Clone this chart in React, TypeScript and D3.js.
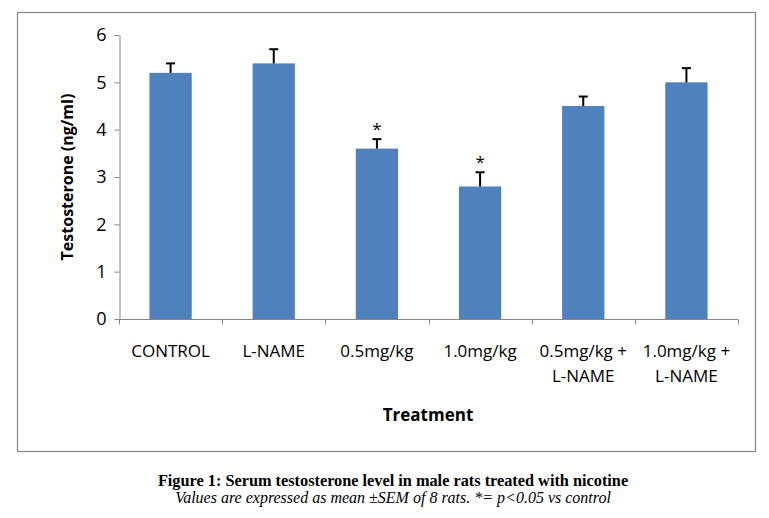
import { useEffect, useRef } from 'react';
import * as d3 from 'd3';

const categories = ['CONTROL', 'L-NAME', '0.5mg/kg', '1.0mg/kg', '0.5mg/kg +|L-NAME', '1.0mg/kg +|L-NAME'];
const means = [5.2, 5.4, 3.6, 2.8, 4.5, 5.0];
const sems = [0.2, 0.3, 0.2, 0.3, 0.2, 0.3];
const significant = [false, false, true, true, false, false];
const yTicks = [0, 1, 2, 3, 4, 5, 6];

const W = 769;
const H = 518;

const App = () => {
  const svgRef = useRef<SVGSVGElement>(null);

  useEffect(() => {
    const svg = d3.select(svgRef.current);
    svg.selectAll('*').remove();

    const left = 119;
    const right = 738;
    const top = 35;
    const bottom = 319;
    const font = "'Open Sans', 'Noto Sans', sans-serif";

    // outer frame
    svg
      .append('rect')
      .attr('x', 17.5)
      .attr('y', 12.5)
      .attr('width', 738)
      .attr('height', 439)
      .attr('fill', 'white')
      .attr('stroke', '#868686')
      .attr('stroke-width', 1.2);

    const x = d3
      .scaleBand<string>()
      .domain(categories)
      .range([left, right])
      .paddingInner(0.59)
      .paddingOuter(0.295);
    const step = (right - left) / categories.length;

    const y = d3.scaleLinear().domain([0, 6]).range([bottom, top]);

    // y axis
    const yAxis = svg
      .append('g')
      .attr('transform', `translate(${left + 0.5},0)`)
      .call(
        d3
          .axisLeft(y)
          .tickValues(yTicks)
          .tickFormat(d3.format('d'))
          .tickSize(5)
          .tickSizeOuter(0)
          .tickPadding(8),
      );
    yAxis.select('.domain').attr('stroke', '#868686');
    yAxis.selectAll('.tick line').attr('stroke', '#868686');
    yAxis
      .selectAll('.tick text')
      .attr('font-family', font)
      .attr('font-size', 18)
      .attr('fill', '#000');

    // x axis: ticks at category boundaries
    const xAxisG = svg.append('g').attr('transform', `translate(0,${bottom + 0.5})`);
    xAxisG
      .append('line')
      .attr('x1', left)
      .attr('x2', right)
      .attr('stroke', '#868686');
    xAxisG
      .selectAll('.bt')
      .data(d3.range(categories.length + 1))
      .enter()
      .append('line')
      .attr('x1', (i) => Math.round(left + i * step) + 0.5)
      .attr('x2', (i) => Math.round(left + i * step) + 0.5)
      .attr('y1', 0)
      .attr('y2', 5)
      .attr('stroke', '#868686');

    // bars
    svg
      .selectAll('.bar')
      .data(categories)
      .enter()
      .append('rect')
      .attr('x', (d) => x(d) as number)
      .attr('width', x.bandwidth())
      .attr('y', (_, i) => y(means[i]))
      .attr('height', (_, i) => y(0) - y(means[i]))
      .attr('fill', '#4F81BD');

    // error bars (positive only)
    const err = svg.append('g').attr('stroke', '#000').attr('stroke-width', 2);
    categories.forEach((c, i) => {
      const cx = (x(c) as number) + x.bandwidth() / 2;
      err
        .append('line')
        .attr('x1', cx)
        .attr('x2', cx)
        .attr('y1', y(means[i]))
        .attr('y2', y(means[i] + sems[i]));
      err
        .append('line')
        .attr('x1', cx - 4.5)
        .attr('x2', cx + 4.5)
        .attr('y1', y(means[i] + sems[i]))
        .attr('y2', y(means[i] + sems[i]));
      if (significant[i]) {
        svg
          .append('text')
          .attr('x', cx)
          .attr('y', y(means[i] + sems[i]) - 4)
          .attr('text-anchor', 'middle')
          .attr('font-family', font)
          .attr('font-size', 17)
          .text('*');
      }
    });

    // category labels
    categories.forEach((c) => {
      const cx = (x(c) as number) + x.bandwidth() / 2;
      const lines = c.split('|');
      lines.forEach((ln, j) => {
        svg
          .append('text')
          .attr('x', cx)
          .attr('y', 357 + j * 25)
          .attr('text-anchor', 'middle')
          .attr('font-family', font)
          .attr('font-size', 17)
          .text(ln);
      });
    });

    // axis titles
    svg
      .append('text')
      .attr('x', 428)
      .attr('y', 421)
      .attr('text-anchor', 'middle')
      .attr('font-family', font)
      .attr('font-weight', 'bold')
      .attr('font-size', 17)
      .text('Treatment');

    svg
      .append('text')
      .attr('transform', `translate(73,177) rotate(-90)`)
      .attr('text-anchor', 'middle')
      .attr('font-family', font)
      .attr('font-weight', 'bold')
      .attr('font-size', 16)
      .text('Testosterone (ng/ml)');

    // caption
    svg
      .append('text')
      .attr('x', 393)
      .attr('y', 486)
      .attr('text-anchor', 'middle')
      .attr('font-family', "'Liberation Serif', 'DejaVu Serif', serif")
      .attr('font-weight', 'bold')
      .attr('font-size', 16.3)
      .text('Figure 1: Serum testosterone level in male rats treated with nicotine');

    svg
      .append('text')
      .attr('x', 393)
      .attr('y', 503)
      .attr('text-anchor', 'middle')
      .attr('font-family', "'Liberation Serif', 'DejaVu Serif', serif")
      .attr('font-style', 'italic')
      .attr('font-size', 16)
      .text('Values are expressed as mean \u00B1SEM of 8 rats. *= p<0.05 vs control');
  }, []);

  return (
    <svg
      ref={svgRef}
      width={W}
      height={H}
      style={{ position: 'absolute', left: 0, top: 0, background: 'white' }}
    />
  );
};

export default App;
